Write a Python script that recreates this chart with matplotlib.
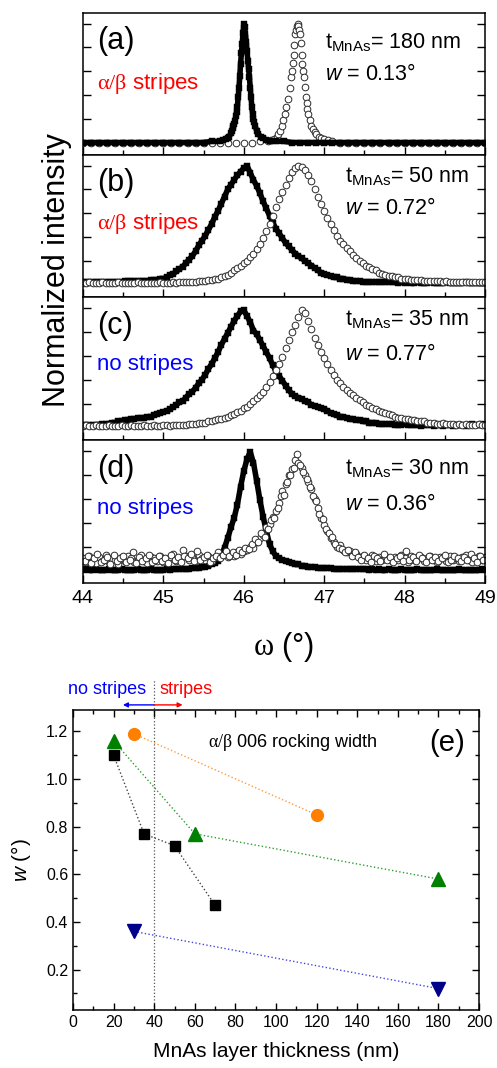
import numpy as np
import matplotlib
matplotlib.use('Agg')
import matplotlib.pyplot as plt
from matplotlib.ticker import MultipleLocator

plt.rcParams['font.family'] = ['Liberation Sans', 'DejaVu Sans']
plt.rcParams['mathtext.fontset'] = 'custom'
plt.rcParams['mathtext.rm'] = 'Liberation Sans'
plt.rcParams['mathtext.it'] = 'Liberation Sans:italic'
plt.rcParams['mathtext.sf'] = 'Liberation Serif'

# ---------------- data: panels (a)-(d), omega scans ----------------
# panel (a): finely sampled around the two narrow peaks
a_sq_x = [44.0, 44.1, 44.2, 44.3, 44.4, 44.5, 44.6, 44.7, 44.8, 44.9, 45.0, 45.1, 45.2, 45.3, 45.4, 45.5, 45.6, 45.7,
          45.74, 45.78, 45.80, 45.82, 45.84,
          45.85, 45.86, 45.87, 45.88, 45.89, 45.90, 45.91, 45.92, 45.93, 45.94, 45.95, 45.96, 45.97, 45.98, 45.99,
          46.00, 46.01, 46.02, 46.03, 46.04, 46.05, 46.06, 46.07, 46.08, 46.09, 46.10, 46.11, 46.12, 46.13, 46.14,
          46.16, 46.18, 46.21, 46.24, 46.28, 46.32,
          46.4, 46.5, 46.6, 46.7, 46.8, 46.9, 47.0, 47.1, 47.2, 47.3, 47.4, 47.5, 47.6, 47.7, 47.8, 47.9, 48.0,
          48.1, 48.2, 48.3, 48.4, 48.5, 48.6, 48.7, 48.8, 48.9, 49.0]
a_sq_y = [0.00, 0.00, 0.00, 0.00, 0.00, 0.00, 0.00, 0.00, 0.00, 0.00, 0.00, 0.00, 0.00, 0.00, 0.00, 0.00, 0.01, 0.01,
          0.02, 0.03, 0.04, 0.05, 0.08,
          0.10, 0.12, 0.14, 0.16, 0.18, 0.22, 0.26, 0.30, 0.38, 0.46, 0.56, 0.66, 0.75, 0.83, 0.92,
          1.00, 0.97, 0.91, 0.85, 0.77, 0.69, 0.62, 0.55, 0.46, 0.38, 0.30, 0.24, 0.20, 0.17, 0.14,
          0.10, 0.07, 0.05, 0.04, 0.02, 0.01,
          0.01, 0.01, 0.00, 0.00, 0.00, 0.00, 0.00, 0.00, 0.00, 0.00, 0.00, 0.00, 0.00, 0.00, 0.00, 0.00, 0.00,
          0.00, 0.00, 0.00, 0.00, 0.00, 0.00, 0.00, 0.00, 0.00, 0.00]
a_ci_x = [44.0, 44.1, 44.2, 44.3, 44.4, 44.5, 44.6, 44.7, 44.8, 44.9, 45.0, 45.1, 45.2, 45.3, 45.4, 45.5, 45.6, 45.7,
          45.8, 45.9, 46.0, 46.1, 46.2, 46.3,
          46.34, 46.38, 46.41, 46.43, 46.45, 46.47, 46.49, 46.51, 46.53, 46.55, 46.57, 46.59,
          46.60, 46.61, 46.62, 46.63, 46.64, 46.65, 46.66, 46.67, 46.68, 46.69, 46.70, 46.71, 46.72, 46.73, 46.74,
          46.75, 46.76, 46.77, 46.78, 46.79, 46.80,
          46.82, 46.84, 46.86, 46.88, 46.90, 46.93, 46.96, 47.00, 47.05, 47.10,
          47.2, 47.3, 47.4, 47.5, 47.6, 47.7, 47.8, 47.9, 48.0, 48.1, 48.2, 48.3, 48.4, 48.5, 48.6, 48.7, 48.8,
          48.9, 49.0]
a_ci_y = [0.00, 0.00, 0.00, 0.00, 0.00, 0.00, 0.00, 0.00, 0.00, 0.00, 0.00, 0.00, 0.00, 0.00, 0.00, 0.00, 0.00, 0.00,
          0.00, 0.00, 0.00, 0.00, 0.01, 0.01,
          0.02, 0.03, 0.05, 0.07, 0.10, 0.14, 0.19, 0.24, 0.30, 0.37, 0.46, 0.55,
          0.60, 0.67, 0.74, 0.82, 0.91, 0.95, 0.98, 1.00, 0.98, 0.95, 0.91, 0.84, 0.74, 0.66, 0.60,
          0.55, 0.47, 0.38, 0.33, 0.28, 0.24,
          0.19, 0.14, 0.11, 0.09, 0.07, 0.05, 0.04, 0.03, 0.02, 0.01,
          0.00, 0.00, 0.00, 0.00, 0.00, 0.00, 0.00, 0.00, 0.00, 0.00, 0.00, 0.00, 0.00, 0.00, 0.00, 0.00, 0.00,
          0.00, 0.00]

# panels (b)-(d): sampled every 0.04 deg from 44.00 to 49.00 (126 points)
omega = np.round(44.0 + 0.04 * np.arange(126), 2)
# panel (d) open circles have a second, interleaved set of readings (44.02 ... 48.98)
omega_mid = np.round(44.02 + 0.04 * np.arange(125), 2)

b_sq = [0.02, 0.02, 0.02, 0.02, 0.02, 0.02, 0.02, 0.02, 0.02, 0.02, 0.02, 0.02, 0.02,
        0.03, 0.03, 0.03, 0.03, 0.03, 0.03, 0.03, 0.03, 0.04, 0.04, 0.04, 0.05, 0.05,
        0.06, 0.08, 0.09, 0.11, 0.13, 0.15, 0.18, 0.21, 0.24, 0.28, 0.33, 0.37, 0.41, 0.46, 0.51, 0.57, 0.62,
        0.68, 0.74, 0.80, 0.84, 0.88, 0.92, 0.95, 0.98,
        1.00, 0.94, 0.88, 0.83, 0.77, 0.70, 0.64, 0.58, 0.52, 0.47, 0.43, 0.39, 0.35, 0.32, 0.29, 0.26, 0.24,
        0.22, 0.20, 0.18, 0.16, 0.14, 0.12, 0.10, 0.09, 0.08, 0.07, 0.06, 0.06, 0.05, 0.05, 0.04, 0.04, 0.03,
        0.03, 0.03, 0.02,
        0.02, 0.02, 0.02, 0.02, 0.02, 0.02, 0.02, 0.02, 0.02, 0.02, 0.01, 0.02, 0.01, 0.02, 0.01, 0.01, 0.02,
        0.01, 0.01, 0.01, 0.02, 0.01, 0.01, 0.01, 0.01, 0.02, 0.01, 0.01, 0.01, 0.01, 0.01, 0.02, 0.01, 0.01,
        0.01, 0.01, 0.01, 0.01]
b_ci = [0.01, 0.01, 0.02, 0.01, 0.01, 0.01, 0.02, 0.01, 0.01, 0.01, 0.01, 0.02, 0.01, 0.01, 0.01, 0.01, 0.01,
        0.02, 0.01, 0.01, 0.01, 0.01, 0.01, 0.01, 0.02, 0.01, 0.01, 0.01, 0.02, 0.01, 0.02, 0.02, 0.02,
        0.02, 0.02, 0.02, 0.03, 0.03, 0.03, 0.04, 0.04, 0.05, 0.05, 0.06, 0.07, 0.08, 0.10, 0.12, 0.14, 0.16,
        0.18, 0.20, 0.23, 0.26, 0.30, 0.34, 0.39, 0.45, 0.51, 0.58, 0.65, 0.72, 0.78, 0.84, 0.90, 0.95, 0.98,
        1.00, 0.99, 0.96, 0.92, 0.87, 0.80, 0.74, 0.68, 0.62, 0.56, 0.51, 0.46, 0.41, 0.37, 0.34, 0.31, 0.28,
        0.25, 0.22, 0.20, 0.18, 0.16, 0.15, 0.13, 0.12, 0.10, 0.09, 0.08, 0.07, 0.07, 0.06, 0.06, 0.05, 0.05,
        0.05, 0.04, 0.04, 0.04, 0.04, 0.03,
        0.03, 0.03, 0.03, 0.03, 0.03, 0.02, 0.03, 0.02, 0.02, 0.02, 0.02, 0.02, 0.02, 0.02, 0.02, 0.02, 0.02,
        0.02, 0.02]

c_sq = [0.02, 0.02, 0.02, 0.02, 0.02, 0.02, 0.03, 0.03, 0.03, 0.04, 0.04, 0.05, 0.05, 0.06, 0.06, 0.07, 0.07,
        0.08, 0.08, 0.08, 0.09, 0.09, 0.10, 0.11, 0.12, 0.13, 0.14, 0.15, 0.17, 0.19, 0.21, 0.22, 0.25, 0.28,
        0.30, 0.33, 0.37, 0.40, 0.44, 0.49, 0.53, 0.58, 0.63, 0.69, 0.74, 0.79, 0.84, 0.89, 0.93, 0.97, 0.98,
        0.93, 0.88, 0.81, 0.78, 0.73, 0.68, 0.63, 0.58, 0.52, 0.47, 0.43, 0.39, 0.35, 0.31, 0.28, 0.26, 0.25,
        0.24, 0.22, 0.21, 0.19, 0.18, 0.17, 0.16, 0.15, 0.14, 0.12, 0.11, 0.10, 0.09, 0.09, 0.08, 0.07, 0.07,
        0.06, 0.06, 0.05, 0.05, 0.04, 0.04, 0.04, 0.03, 0.03, 0.03, 0.03, 0.03, 0.02,
        0.02, 0.02, 0.03, 0.02, 0.02, 0.02, 0.02, 0.01, 0.02, 0.02, 0.02, 0.01, 0.02, 0.02, 0.01, 0.02, 0.02,
        0.01, 0.02, 0.02, 0.02, 0.01, 0.02, 0.03, 0.02, 0.02, 0.03, 0.02]
c_ci = [0.01, 0.02, 0.01, 0.01, 0.02, 0.01, 0.01, 0.01, 0.02, 0.01, 0.01, 0.01, 0.02, 0.01, 0.01, 0.02, 0.01,
        0.01, 0.01, 0.02, 0.01, 0.01, 0.02, 0.01, 0.01, 0.02, 0.02, 0.01, 0.02, 0.02, 0.02,
        0.02, 0.02, 0.03, 0.03, 0.03, 0.04, 0.04, 0.04, 0.05, 0.05, 0.06, 0.07, 0.07, 0.08, 0.09, 0.10, 0.11,
        0.13, 0.14, 0.16, 0.17, 0.20, 0.22, 0.25, 0.27, 0.30, 0.34, 0.38, 0.43, 0.48, 0.53, 0.59, 0.66, 0.73,
        0.80, 0.86, 0.92, 0.98, 0.96, 0.89, 0.82, 0.75, 0.69, 0.63, 0.58, 0.53, 0.48, 0.44, 0.40, 0.37, 0.34,
        0.31, 0.29, 0.27, 0.25, 0.23, 0.21, 0.19, 0.18, 0.16, 0.15, 0.14, 0.13, 0.12, 0.11, 0.10, 0.09, 0.08,
        0.08, 0.07, 0.07, 0.06, 0.06, 0.05, 0.05, 0.05, 0.04, 0.04, 0.04,
        0.03, 0.03, 0.04, 0.03, 0.03, 0.03, 0.02, 0.03, 0.02, 0.03, 0.02, 0.02, 0.02, 0.03, 0.02, 0.02]

d_sq = [0.00, 0.01, 0.00, 0.00, 0.01, 0.00, 0.00, 0.00, 0.01, 0.00, 0.00, 0.00, 0.01, 0.00, 0.00, 0.00, 0.00,
        0.01, 0.00, 0.00, 0.00, 0.01, 0.00, 0.00, 0.00, 0.00, 0.01, 0.00, 0.01, 0.01, 0.01,
        0.01, 0.01, 0.01, 0.02, 0.02, 0.02, 0.03, 0.03, 0.04, 0.05, 0.06, 0.08, 0.12, 0.19, 0.27, 0.36, 0.44,
        0.55, 0.70, 0.83, 0.93, 0.99, 0.90, 0.75, 0.59, 0.45, 0.33, 0.22, 0.16, 0.12, 0.10, 0.09, 0.08, 0.07,
        0.06, 0.05, 0.05, 0.04, 0.04, 0.03, 0.03, 0.03, 0.02, 0.02, 0.02,
        0.02, 0.02, 0.01, 0.01, 0.01, 0.01, 0.01, 0.01, 0.01, 0.01, 0.01, 0.01, 0.01, 0.00, 0.01, 0.00, 0.01,
        0.00, 0.00, 0.01, 0.00, 0.00, 0.00, 0.01, 0.00, 0.00, 0.00, 0.00, 0.01, 0.00, 0.00, 0.00, 0.00, 0.00,
        0.01, 0.00, 0.00, 0.00, 0.00, 0.00, 0.00, 0.01, 0.00, 0.00, 0.00, 0.00, 0.00, 0.00, 0.01, 0.00]
d_ci = [0.10, 0.07, 0.12, 0.09, 0.06, 0.11, 0.08, 0.13, 0.07, 0.10, 0.09, 0.05, 0.11, 0.08, 0.12, 0.10, 0.07,
        0.09, 0.13, 0.08, 0.06, 0.11, 0.10, 0.08, 0.12, 0.07, 0.09, 0.11, 0.14, 0.08, 0.10, 0.17, 0.12, 0.09,
        0.11, 0.08, 0.13, 0.10, 0.09, 0.12, 0.08, 0.11, 0.15,
        0.12, 0.14, 0.11, 0.13, 0.12, 0.15, 0.14, 0.16, 0.17, 0.20, 0.19, 0.24, 0.27, 0.30, 0.36, 0.39, 0.45,
        0.50, 0.56, 0.66, 0.72, 0.80, 0.85, 0.92, 0.90, 0.86, 0.80, 0.74, 0.68, 0.60, 0.52, 0.44, 0.38, 0.33,
        0.27, 0.24, 0.20, 0.21, 0.17, 0.15, 0.16, 0.13, 0.14,
        0.11, 0.12, 0.09, 0.10, 0.13, 0.08, 0.11, 0.09, 0.12, 0.10, 0.08, 0.11, 0.09, 0.13, 0.10, 0.07, 0.12,
        0.09, 0.10, 0.11, 0.08, 0.10, 0.12, 0.09, 0.07, 0.11, 0.10, 0.08, 0.12, 0.09, 0.10, 0.08, 0.11, 0.13,
        0.09, 0.07, 0.10, 0.12, 0.09, 0.11]
d_ci_mid = [0.08, 0.12, 0.06, 0.10, 0.14, 0.07, 0.09, 0.11, 0.05, 0.13, 0.08, 0.10, 0.12, 0.07, 0.09, 0.15,
            0.06, 0.11, 0.08, 0.10, 0.13, 0.07, 0.09, 0.12, 0.08, 0.10, 0.06, 0.13, 0.09, 0.11, 0.07, 0.12,
            0.10, 0.14, 0.08, 0.16, 0.09, 0.11, 0.13, 0.07, 0.10, 0.12,
            0.10, 0.13, 0.16, 0.12, 0.15, 0.13, 0.17, 0.15, 0.19, 0.18, 0.22, 0.26, 0.24, 0.31, 0.28, 0.35,
            0.42, 0.44, 0.52, 0.62, 0.63, 0.74, 0.80, 0.86, 0.97, 0.88, 0.82, 0.76, 0.70, 0.62, 0.58, 0.47,
            0.43, 0.35, 0.31, 0.28, 0.22, 0.19, 0.18, 0.15, 0.17, 0.12, 0.15, 0.11,
            0.09, 0.13, 0.10, 0.07, 0.12, 0.10, 0.08, 0.14, 0.09, 0.11, 0.07, 0.10, 0.12, 0.08, 0.16, 0.09,
            0.11, 0.08, 0.13, 0.10, 0.07, 0.12, 0.09, 0.11, 0.08, 0.10, 0.13, 0.07, 0.09, 0.12, 0.10, 0.08,
            0.11, 0.09, 0.14, 0.10, 0.07, 0.12, 0.09]

panel_letters = ['(a)', '(b)', '(c)', '(d)']
thickness_nm = [180, 50, 35, 30]
width_deg = ['0.13', '0.72', '0.77', '0.36']
stripe_text = [r'$\mathsf{\alpha/\beta}$ stripes', r'$\mathsf{\alpha/\beta}$ stripes', 'no stripes', 'no stripes']
stripe_color = ['red', 'red', 'blue', 'blue']

# ---------------- data: panel (e) ----------------
sq_t = [20, 35, 50, 70]
sq_w = [1.10, 0.77, 0.72, 0.47]
tri_t = [20, 60, 180]
tri_w = [1.16, 0.77, 0.58]
circ_t = [30, 120]
circ_w = [1.19, 0.85]
dtri_t = [30, 180]
dtri_w = [0.36, 0.12]
boundary_t = 40

# ---------------- figure ----------------
W, H = 497, 1068
fig = plt.figure(figsize=(W / 100, H / 100), dpi=100)


def px_axes(l, t, r, b):
    return fig.add_axes([l / W, 1 - b / H, (r - l) / W, (b - t) / H])


panel_px = [(83, 13, 485, 155), (83, 155, 485, 297), (83, 297, 485, 440), (83, 440, 485, 583)]
series = [(a_sq_x, a_sq_y, [a_ci_x], [a_ci_y]),
          (omega, b_sq, [omega], [b_ci]),
          (omega, c_sq, [omega], [c_ci]),
          (omega, d_sq, [omega, omega_mid], [d_ci, d_ci_mid])]
t_y = [0.79, 0.85, 0.84, 0.80]
w_y = [0.57, 0.62, 0.60, 0.55]
t_x = [0.602, 0.652, 0.652, 0.652]
s_y = [0.50, 0.515, 0.53, 0.52]
circ_z = [1, 3, 3, 3]

for k in range(4):
    ax = px_axes(*panel_px[k])
    xs, ys, xcs, ycs = series[k]
    ax.plot(xs, ys, '-', color='black', lw=4.0, marker='s', ms=5.0, mfc='black', mec='black',
            mew=0.3, zorder=2)
    for xc, yc in zip(xcs, ycs):
        ax.plot(xc, yc, ls='none', marker='o', ms=4.8, mfc='white', mec='#2a2a2a', mew=0.7,
                zorder=circ_z[k])
    ax.set_xlim(44, 49)
    ax.set_ylim(-0.105, 1.09)
    ax.xaxis.set_major_locator(MultipleLocator(1))
    ax.xaxis.set_minor_locator(MultipleLocator(0.5))
    ax.yaxis.set_major_locator(MultipleLocator(0.2))
    ax.tick_params(axis='x', which='both', direction='in', bottom=True, top=False,
                   labelbottom=(k == 3), labelsize=14, pad=5)
    ax.tick_params(axis='y', which='both', direction='in', left=True, right=True, labelleft=False)
    ax.tick_params(which='major', length=6, width=1.0)
    ax.tick_params(which='minor', length=3.5, width=1.0)
    for s in ax.spines.values():
        s.set_linewidth(1.1)
        s.set_zorder(5)
    ax.text(0.035, 0.80, panel_letters[k], transform=ax.transAxes, fontsize=22, ha='left', va='center')
    ax.text(0.035, s_y[k], stripe_text[k], transform=ax.transAxes, fontsize=16,
            color=stripe_color[k], ha='left', va='center')
    ax.text(t_x[k], t_y[k], r'$\mathrm{t_{MnAs}}$= %d nm' % thickness_nm[k], transform=ax.transAxes,
            fontsize=15.5, ha='left', va='center')
    ax.text(t_x[k], w_y[k], r'$\mathit{w}$ = %s°' % width_deg[k], transform=ax.transAxes,
            fontsize=15.5, ha='left', va='center')

fig.text(284 / W, 1 - 647 / H, r'$\mathsf{\omega}$ (°)', fontsize=22, ha='center', va='center')
fig.text(57 / W, 1 - 270 / H, 'Normalized intensity', fontsize=22, rotation=90, ha='center', va='center')

# ---------------- panel (e) ----------------
ax = px_axes(73, 710, 479, 1010)
ax.plot(sq_t, sq_w, ls=':', color='#444444', lw=1.0, marker='s', ms=7.0, mfc='black', mec='black', zorder=3)
ax.plot(tri_t, tri_w, ls=':', color='#2e9e2e', lw=1.0, marker='^', ms=9.5, mfc='#008000', mec='#008000', zorder=3)
ax.plot(circ_t, circ_w, ls=':', color='#ff9a3c', lw=1.0, marker='o', ms=8.5, mfc='#ff8000', mec='#ff8000', zorder=3)
ax.plot(dtri_t, dtri_w, ls=':', color='#4646e0', lw=1.0, marker='v', ms=9.5, mfc='#00008b', mec='#00008b', zorder=3)
ax.axvline(boundary_t, 0, 1.105, ls=':', color='#555555', lw=0.9, clip_on=False, zorder=1)

ax.set_xlim(0, 200)
ax.set_ylim(0.03, 1.29)
ax.xaxis.set_major_locator(MultipleLocator(20))
ax.xaxis.set_minor_locator(MultipleLocator(10))
ax.yaxis.set_major_locator(MultipleLocator(0.2))
ax.yaxis.set_minor_locator(MultipleLocator(0.1))
ax.tick_params(which='both', direction='in', top=True, right=True, labelsize=11.5, width=1.0)
ax.tick_params(which='major', length=5)
ax.tick_params(which='minor', length=3)
for s in ax.spines.values():
    s.set_linewidth(1.1)
ax.set_xlabel('MnAs layer thickness (nm)', fontsize=15, labelpad=9)
ax.set_ylabel(r'$\mathit{w}$ (°)', fontsize=15, labelpad=9)

ax.text(0.333, 0.893, r'$\mathsf{\alpha/\beta}$ 006 rocking width', transform=ax.transAxes,
        fontsize=13, ha='left', va='center')
ax.text(0.922, 0.89, '(e)', transform=ax.transAxes, fontsize=21, ha='center', va='center')

tr = ax.get_xaxis_transform()
ax.text(35.8, 1.07, 'no stripes', transform=tr, color='blue', fontsize=13, ha='right', va='center')
ax.text(42.6, 1.07, 'stripes', transform=tr, color='red', fontsize=13, ha='left', va='center')
ax.annotate('', xy=(24.6, 1.017), xytext=(boundary_t, 1.017), xycoords=tr, textcoords=tr,
            arrowprops=dict(arrowstyle='-|>', color='blue', lw=1.0, mutation_scale=7, shrinkA=0, shrinkB=0),
            annotation_clip=False)
ax.annotate('', xy=(54.0, 1.017), xytext=(boundary_t, 1.017), xycoords=tr, textcoords=tr,
            arrowprops=dict(arrowstyle='-|>', color='red', lw=1.0, mutation_scale=7, shrinkA=0, shrinkB=0),
            annotation_clip=False)

fig.savefig('out.png', dpi=100)
